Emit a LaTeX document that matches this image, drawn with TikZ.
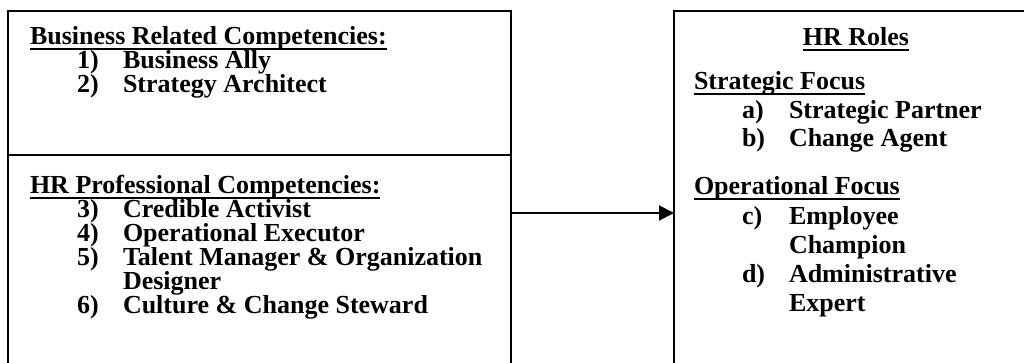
\documentclass[tikz,border=0pt]{standalone}
\usepackage{fontspec}
\setmainfont{Liberation Serif}
\usetikzlibrary{arrows.meta}
\begin{document}
\begin{tikzpicture}[x=1pt,y=-1pt,
  box/.style={draw, line width=2pt, outer sep=0pt, inner sep=0pt, rectangle},
  txt/.style={anchor=base west, inner sep=0pt, outer sep=0pt, font=\fontsize{26}{24}\selectfont\bfseries},
  uline/.style={line width=1.8pt},
  arr/.style={line width=2pt, -{Triangle[length=15pt,width=15pt]}}]
\useasboundingbox (0,0) rectangle (1024,362);
\clip (0,0) rectangle (1024,362);
% boxes
\node[box, minimum width=503pt, minimum height=144pt] (upper) at (259.5,83) {};
\node[box, minimum width=503pt, minimum height=225pt] (lower) at (259.5,267.5) {};
\node[box, minimum width=370pt, minimum height=369pt] (right) at (859,195.5) {};
% upper box text
\node[txt] (h1) at (30,44) {Business Related Competencies:};
\draw[uline] ([yshift=-5pt]h1.base west) -- ([yshift=-5pt]h1.base east);
\node[txt] (n1) at (77,68) {1)};
\node[txt] (t1) at (123,68) {Business Ally};
\node[txt] (n2) at (77,92) {2)};
\node[txt] (t2) at (123,92) {Strategy Architect};
% lower box text
\node[txt] (h2) at (30,193) {HR Professional Competencies:};
\draw[uline] ([yshift=-5pt]h2.base west) -- ([yshift=-5pt]h2.base east);
\node[txt] (n3) at (77,217) {3)};
\node[txt] (t3) at (123,217) {Credible Activist};
\node[txt] (n4) at (77,241) {4)};
\node[txt] (t4) at (123,241) {Operational Executor};
\node[txt] (n5) at (77,265) {5)};
\node[txt] (t5) at (123,265) {Talent Manager \& Organization};
\node[txt] (t5b) at (123,289) {Designer};
\node[txt] (n6) at (77,313) {6)};
\node[txt] (t6) at (123,313) {Culture \& Change Steward};
% right box text
\node[txt, anchor=base] (h3) at (856,45) {HR Roles};
\draw[uline] ([yshift=-5pt]h3.base west) -- ([yshift=-5pt]h3.base east);
\node[txt] (h4) at (694,89) {Strategic Focus};
\draw[uline] ([yshift=-5pt]h4.base west) -- ([yshift=-5pt]h4.base east);
\node[txt] (na) at (742,118) {a)};
\node[txt] (ta) at (789,118) {Strategic Partner};
\node[txt] (nb) at (742,146) {b)};
\node[txt] (tb) at (789,146) {Change Agent};
\node[txt] (h5) at (694,194) {Operational Focus};
\draw[uline] ([yshift=-5pt]h5.base west) -- ([yshift=-5pt]h5.base east);
\node[txt] (nc) at (742,224) {c)};
\node[txt] (tc) at (789,224) {Employee};
\node[txt] (tcb) at (789,253) {Champion};
\node[txt] (nd) at (742,282) {d)};
\node[txt] (td) at (789,282) {Administrative};
\node[txt] (tdb) at (789,311) {Expert};
% arrow
\coordinate (ay) at (0,213);
\draw[arr] (lower.east |- ay) -- (right.west |- ay);
\end{tikzpicture}
\end{document}
